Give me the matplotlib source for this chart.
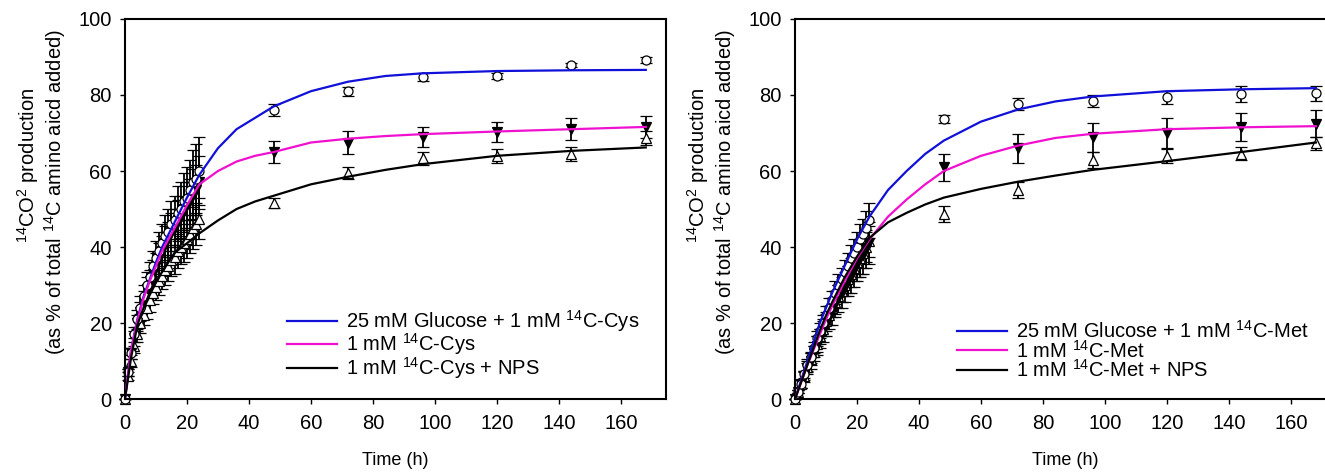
import matplotlib
matplotlib.use('Agg')
import matplotlib.pyplot as plt

plt.rcParams['font.family'] = ['Liberation Sans', 'DejaVu Sans']
plt.rcParams['mathtext.fontset'] = 'custom'
plt.rcParams['mathtext.rm'] = 'Liberation Sans'

# sampling times (h): hourly for the first day, then daily
time = [0, 1, 2, 3, 4, 5, 6, 7, 8, 9, 10, 11, 12, 13, 14, 15, 16, 17, 18, 19, 20,
        21, 22, 23, 24, 48, 72, 96, 120, 144, 168]

# Cys panel - measured points (mean, error)
cys_glu = [0, 7, 12, 17, 21, 24, 27, 30, 32, 35, 37, 39, 41, 43, 44, 46, 47, 49, 50, 52, 53,
           55, 57, 58, 60, 76, 81, 84.8, 85, 87.9, 89.2]
cys_glu_err = [0, 1, 1.5, 2, 2.5, 3, 3, 3.5, 4, 4, 4.5, 5, 5, 5.5, 6, 6, 6.5, 7, 7, 7.5, 8,
               8, 8.5, 9, 9, 1.5, 1.2, 1, 0.8, 0.6, 0.8]
cys_ctl = [0, 7, 12, 16, 20, 23, 26, 29, 31, 33, 35, 37, 39, 41, 42, 44, 45, 47, 48, 50, 51,
           52, 54, 55, 57, 65, 67.4, 69, 70.3, 71, 71.7]
cys_ctl_err = [0, 1, 1.5, 2, 2, 2.5, 2.5, 3, 3, 3.5, 3.5, 4, 4, 4.5, 4.5, 5, 5, 5.5, 5.5, 6, 6,
               6, 6.5, 6.5, 7, 3, 3, 2.7, 2.7, 2.9, 2.9]
cys_nps = [0, 6, 10, 14, 17, 20, 22, 24, 26, 28, 29.5, 31, 32.5, 34, 35, 36.5, 37.5, 39, 40, 41, 42,
           43.5, 45, 46, 47.5, 51.6, 59.5, 63.4, 64, 64.5, 68.7]
cys_nps_err = [0, 1, 1.5, 2, 2, 2.5, 2.5, 3, 3, 3, 3.5, 3.5, 3.5, 4, 4, 4, 4.5, 4.5, 4.5, 5, 5,
               5, 5.5, 5.5, 5.5, 1.2, 1.5, 1.7, 1.8, 1.8, 1.8]

# Met panel - measured points (mean, error)
met_glu = [0, 2, 4, 6.5, 9, 11, 13.5, 16, 18, 20, 22, 24, 26, 28, 30, 31.5, 33.5, 35, 37, 38.5, 40,
           42, 43.5, 45, 47, 73.7, 77.6, 78.5, 79.4, 80.3, 80.4]
met_glu_err = [0, 0.5, 1, 1, 1.5, 1.5, 1.5, 2, 2, 2, 2.5, 2.5, 2.5, 3, 3, 3, 3, 3.5, 3.5, 3.5, 4,
               4, 4, 4.5, 4.5, 1, 1.5, 1.6, 1.7, 2.1, 1.9]
met_ctl = [0, 2, 4, 6, 8, 10, 12, 14, 16, 18, 19.5, 21.5, 23, 25, 26.5, 28, 29.5, 31, 32.5, 34, 35.5,
           37, 38, 39.5, 41, 61, 66, 68.9, 70, 71.5, 72.5]
met_ctl_err = [0, 0.5, 1, 1.5, 1.5, 2, 2, 2.5, 2.5, 3, 3, 3, 3.5, 3.5, 3.5, 4, 4, 4, 4.5, 4.5, 4.5,
               5, 5, 5, 5.5, 3.6, 3.8, 3.8, 3.9, 3.7, 3.6]
met_nps = [0, 2, 4, 6, 8.5, 10.5, 12.5, 14.5, 16.5, 18.5, 20.5, 22, 24, 25.5, 27, 28.5, 30, 31.5, 33,
           34.5, 36, 37, 38.5, 40, 41.5, 48.7, 55, 62.9, 64, 64.6, 67.3]
met_nps_err = [0, 0.5, 1, 1, 1.5, 1.5, 1.5, 2, 2, 2, 2.5, 2.5, 2.5, 3, 3, 3, 3, 3.5, 3.5, 3.5, 4,
               4, 4, 4, 4, 2, 2, 2.1, 1.9, 1.7, 1.7]

# fitted curves
fit_time = [0, 2, 4, 6, 8, 10, 12, 16, 20, 24, 30, 36, 42, 48, 60, 72, 84, 96, 120, 144, 168]
cys_glu_fit = [0, 13, 21, 27, 31.5, 36, 40, 46.5, 53, 59, 66, 71, 74, 77, 81, 83.5, 85, 85.7,
               86.3, 86.5, 86.6]
cys_ctl_fit = [0, 13, 20.5, 26.5, 31, 35, 39, 45, 51, 56.5, 60, 62.5, 64, 65, 67.5, 68.5, 69.2,
               69.7, 70.4, 71, 71.6]
cys_nps_fit = [0, 11, 19.5, 24, 28, 31, 33.5, 38.5, 41, 43.6, 47, 50, 52, 53.5, 56.5, 58.5, 60.3,
               61.8, 64, 65.3, 66.2]
met_glu_fit = [0, 5, 10, 15, 20, 24, 28, 35, 42, 48, 55, 60, 64.5, 68, 73, 76.2, 78.3, 79.6, 81,
               81.5, 81.8]
met_ctl_fit = [0, 4.5, 9, 13, 17, 21, 24.5, 31, 37, 42, 48, 52.5, 56.5, 60, 64, 66.7, 68.7, 69.8,
               71, 71.5, 71.8]
met_nps_fit = [0, 4.5, 9, 13.5, 18, 22, 25.5, 32, 37.5, 42.4, 46.5, 49, 51.2, 53, 55.3, 57.2,
               58.8, 60.3, 62.6, 65, 67.5]

BLUE = '#1010d8'
MAGENTA = '#f010d0'

panels = [
    ('Cys', [0.0943, 0.158, 0.4083, 0.802],
     (cys_glu, cys_glu_err, cys_ctl, cys_ctl_err, cys_nps, cys_nps_err),
     (cys_glu_fit, cys_ctl_fit, cys_nps_fit)),
    ('Met', [0.6000, 0.158, 0.4083, 0.802],
     (met_glu, met_glu_err, met_ctl, met_ctl_err, met_nps, met_nps_err),
     (met_glu_fit, met_ctl_fit, met_nps_fit)),
]

fig = plt.figure(figsize=(13.25, 4.74), dpi=100)

for aa, pos, pts, fits in panels:
    ax = fig.add_axes(pos)
    glu, glu_err, ctl, ctl_err, nps, nps_err = pts
    eb = dict(ecolor='black', elinewidth=1.3, capsize=4.5, capthick=1.5,
              markeredgecolor='black', markeredgewidth=0.9, ms=6.5, clip_on=False, zorder=2)
    ax.errorbar(time, nps, yerr=nps_err, fmt='^', mfc='white', **eb)
    ax.errorbar(time, ctl, yerr=ctl_err, fmt='v', mfc='black', **eb)
    ax.errorbar(time, glu, yerr=glu_err, fmt='o', mfc='white', **eb)

    ax.plot(fit_time, fits[0], color=BLUE, lw=1.6, zorder=3,
            label='25 mM Glucose + 1 mM $^{14}$C-' + aa)
    ax.plot(fit_time, fits[1], color=MAGENTA, lw=1.6, zorder=3,
            label='1 mM $^{14}$C-' + aa)
    ax.plot(fit_time, fits[2], color='black', lw=1.6, zorder=3,
            label='1 mM $^{14}$C-' + aa + ' + NPS')

    ax.set_xlim(0, 174.5)
    ax.set_ylim(0, 100)
    ax.set_xticks([0, 20, 40, 60, 80, 100, 120, 140, 160])
    ax.set_yticks([0, 20, 40, 60, 80, 100])
    ax.tick_params(labelsize=14.5, length=3.5, width=1, pad=6)
    ax.tick_params(axis='x', pad=7)
    for s in ax.spines.values():
        s.set_linewidth(1.5)

    ax.set_xlabel('Time (h)', fontsize=13, labelpad=14)
    ax.text(-0.18, 0.616, '$^{14}$CO$^{2}$ production', transform=ax.transAxes,
            rotation=90, ha='center', va='center', fontsize=14.5)
    ax.text(-0.129, 0.545, '(as % of total $^{14}$C amino aicd added)', transform=ax.transAxes,
            rotation=90, ha='center', va='center', fontsize=14.5)

    ax.legend(loc='lower left', bbox_to_anchor=(0.299, 0.048), frameon=False, fontsize=14.5,
              handlelength=2.5, handletextpad=0.45, labelspacing=-0.12, borderpad=0,
              borderaxespad=0)

fig.savefig('out.png', dpi=100)
